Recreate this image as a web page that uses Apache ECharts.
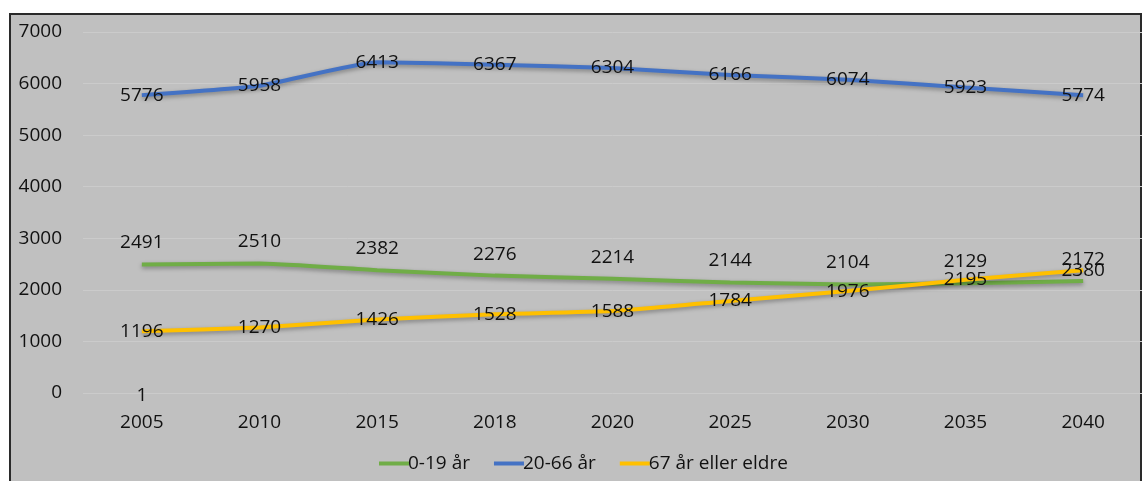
<!DOCTYPE html>
<html>
<head>
<meta charset="utf-8">
<style>html,body{margin:0;padding:0;background:#fff}#c{width:1143px;height:481px}</style>
<script src="https://cdn.jsdelivr.net/npm/echarts@6/dist/echarts.min.js"></script>
</head>
<body>
<div id="c"></div>
<script>
const years = ['2005','2010','2015','2018','2020','2025','2030','2035','2040'];
const age0_19 = [2491, 2510, 2382, 2276, 2214, 2144, 2104, 2129, 2172];
const age20_66 = [5776, 5958, 6413, 6367, 6304, 6166, 6074, 5923, 5774];
const age67plus = [1196, 1270, 1426, 1528, 1588, 1784, 1976, 2195, 2380];
const stray = [1, null, null, null, null, null, null, null, null];
const yTicks = {min: 0, max: 7000, interval: 1000};

const font = 'Open Sans, Noto Sans, sans-serif';
const fs = 19;
const chart = echarts.init(document.getElementById('c'));
function lineSeries(name, data, color, label) {
  return {
    name, type: 'line', data, symbol: 'circle', symbolSize: 0, showSymbol: true, smooth: 0.15,
    lineStyle: {color, width: 4, shadowColor: 'rgba(0,0,0,0.35)', shadowBlur: 4, shadowOffsetY: 2},
    itemStyle: {color},
    label: Object.assign({show: true, color: '#111', fontSize: fs, fontFamily: font}, label),
    labelLayout: {hideOverlap: false},
    z: 3
  };
}
chart.setOption({
  backgroundColor: '#fff',
  animation: false,
  graphic: [{
    type: 'rect', z: -100, silent: true,
    shape: {x: 10, y: 14, width: 1131, height: 470},
    style: {fill: '#c0c0c0', stroke: '#2a2a2a', lineWidth: 2}
  }],
  grid: {left: 83, right: 1, top: 32, bottom: 88},
  legend: {
    bottom: 3, left: 374, itemWidth: 30, itemHeight: 4, itemGap: 24,
    icon: 'rect',
    textStyle: {fontSize: fs, color: '#111', fontFamily: font, padding: [0,0,0,-6]},
    data: ['0-19 år', '20-66 år', '67 år eller eldre']
  },
  xAxis: {
    type: 'category', data: years, boundaryGap: true,
    axisLine: {show: false}, axisTick: {show: false},
    axisLabel: {fontSize: fs, color: '#111', fontFamily: font, margin: 20}
  },
  yAxis: {
    type: 'value', min: yTicks.min, max: yTicks.max, interval: yTicks.interval,
    axisLine: {show: false}, axisTick: {show: false},
    axisLabel: {fontSize: fs, color: '#111', fontFamily: font, margin: 21, formatter: v => String(v)},
    splitLine: {lineStyle: {color: '#cbcbcb', width: 1}}
  },
  series: [
    lineSeries('0-19 år', age0_19, '#70ad47', {position: 'top', distance: 12}),
    lineSeries('20-66 år', age20_66, '#4472c4', {position: 'inside', offset: [0, 2]}),
    lineSeries('67 år eller eldre', age67plus, '#ffc000', {position: 'inside', offset: [0, 1]}),
    {name: 'stray', type: 'line', data: stray, symbol: 'circle', symbolSize: 0, showSymbol: true,
     lineStyle: {width: 0}, itemStyle: {color: 'transparent'},
     label: {show: true, position: 'inside', offset: [0, 3], color: '#111', fontSize: fs, fontFamily: font}}
  ]
});
</script>
</body>
</html>
